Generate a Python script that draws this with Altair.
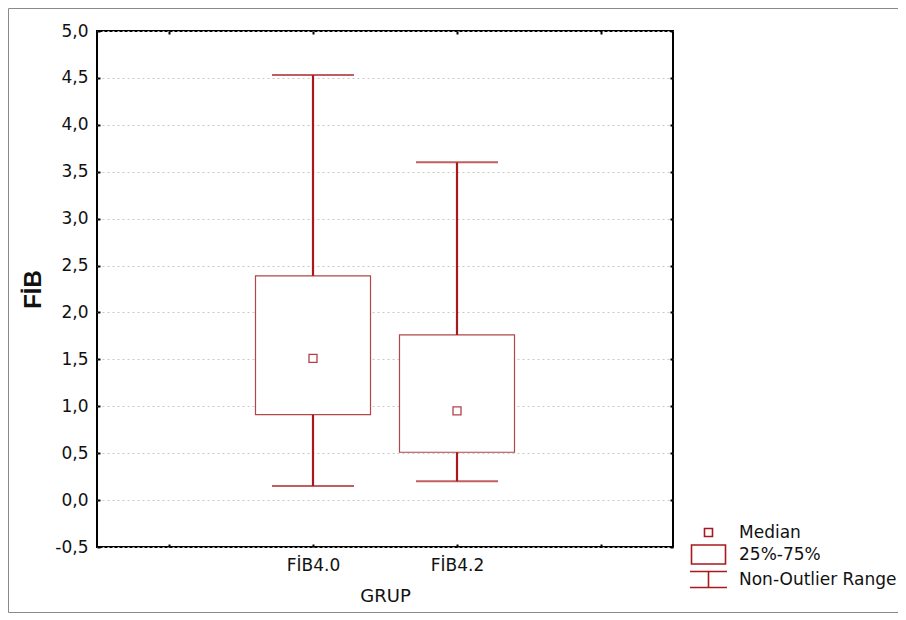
import altair as alt
import pandas as pd

# ---- data ----
groups = ["FİB4.0", "FİB4.2"]
whisker_low = [0.15, 0.20]
q1 = [0.91, 0.51]
median = [1.51, 0.95]
q3 = [2.39, 1.76]
whisker_high = [4.53, 3.60]

x_domain = [" ", "FİB4.0", "FİB4.2", "  "]
y_ticks = [-0.5, 0.0, 0.5, 1.0, 1.5, 2.0, 2.5, 3.0, 3.5, 4.0, 4.5, 5.0]
legend_items = ["Median", "25%-75%", "Non-Outlier Range"]
legend_paths = [
    "M-0.8,-0.8H0.8V0.8H-0.8Z",
    "M-3.4,-1.9H3.4V1.9H-3.4Z",
    "M-3.7,-1.6H3.7M0,-1.6V1.6M-3.7,1.6H3.7",
]

df = pd.DataFrame({"grp": groups, "lo": whisker_low, "q1": q1, "med": median,
                   "q3": q3, "hi": whisker_high})
legend_df = pd.DataFrame({"item": legend_items})

FONT = "DejaVu Sans"
WHISK = "#a8191e"
BOX = "#b0474a"
MED = "#b3404a"

xscale = alt.Scale(type="point", domain=x_domain, padding=0.5)
yscale = alt.Scale(domain=[-0.5, 5.0], nice=False, zero=False)

label_expr = "replace(replace(format(datum.value, '.1f'), '.', ','), '\u2212', '-')"

x_axis = alt.Axis(orient="bottom", title="GRUP", labelAngle=0, tickSize=3, offset=-3,
                  domain=False, tickColor="black", tickWidth=2, labelPadding=10,
                  titlePadding=14, grid=False, labelFontSize=17, titleFontSize=18,
                  titleFontWeight="normal")
y_axis = alt.Axis(orient="left", title="FİB", values=y_ticks, labelExpr=label_expr,
                  tickSize=3, offset=-3, domain=False, tickColor="black", tickWidth=2,
                  labelPadding=9, grid=True, gridDash=[2, 3], gridColor="#c8c8c8",
                  gridWidth=1, labelFontSize=17, titleFontSize=24, titleFontWeight="bold",
                  titleFont="Liberation Sans", titleX=-67, titleY=258, titleAngle=270,
                  titleAlign="center", titleBaseline="middle")

x_top = alt.Axis(orient="top", labels=False, title=None, tickSize=3, offset=-3,
                 domain=False, tickColor="black", tickWidth=2, grid=False)
y_right = alt.Axis(orient="right", labels=False, title=None, values=y_ticks, tickSize=3,
                   offset=-3, domain=False, tickColor="black", tickWidth=2, grid=False)

base = alt.Chart(df)

frame = alt.Chart(alt.Data(values=[{"f": 1}])).mark_rect(
    fill="transparent", stroke="#8a8a8a", strokeWidth=1
).encode(x=alt.value(-88.5), x2=alt.value(900), y=alt.value(-22.5), y2=alt.value(581.5))

bars = base.mark_bar(fill="white", stroke=BOX, strokeWidth=1.2, size=115).encode(
    x=alt.X("grp:N", scale=xscale, axis=x_axis),
    y=alt.Y("q1:Q", scale=yscale, axis=y_axis),
    y2="q3:Q",
)
up = base.mark_rule(color=WHISK, strokeWidth=2.2).encode(
    x=alt.X("grp:N", scale=xscale, axis=None),
    y=alt.Y("q3:Q", scale=yscale, axis=None), y2="hi:Q")
down = base.mark_rule(color=WHISK, strokeWidth=2.2).encode(
    x=alt.X("grp:N", scale=xscale, axis=None),
    y=alt.Y("lo:Q", scale=yscale, axis=None), y2="q1:Q")
cap_hi = base.mark_tick(color=WHISK, thickness=2, size=82).encode(
    x=alt.X("grp:N", scale=xscale, axis=None),
    y=alt.Y("hi:Q", scale=yscale, axis=None))
cap_lo = base.mark_tick(color=WHISK, thickness=2, size=82).encode(
    x=alt.X("grp:N", scale=xscale, axis=None),
    y=alt.Y("lo:Q", scale=yscale, axis=None))
med = base.mark_point(shape="square", filled=False, size=64, color=MED,
                      strokeWidth=1.3, opacity=1).encode(
    x=alt.X("grp:N", scale=xscale, axis=None),
    y=alt.Y("med:Q", scale=yscale, axis=None))
axes2 = base.mark_point(opacity=0).encode(
    x=alt.X("grp:N", scale=xscale, axis=x_top),
    y=alt.Y("med:Q", scale=yscale, axis=y_right))
legend = alt.Chart(legend_df).mark_point(opacity=0).encode(
    shape=alt.Shape("item:N",
                    scale=alt.Scale(domain=legend_items, range=legend_paths),
                    legend=alt.Legend(orient="none", legendX=603, legendY=493, title=None,
                                      symbolSize=100, symbolStrokeColor=WHISK,
                                      symbolFillColor="transparent", symbolStrokeWidth=1.6,
                                      symbolOpacity=1, labelFont=FONT, labelFontSize=17,
                                      labelColor="#111", labelOffset=22, rowPadding=0,
                                      padding=0)))

chart = alt.layer(frame, bars, up, down, cap_hi, cap_lo, med, axes2, legend).resolve_axis(
    x="independent", y="independent"
).properties(
    width=576, height=516,
    padding={"left": 89, "top": 23, "right": 225, "bottom": 66},
    autosize=alt.AutoSizeParams(type="none"),
    background="white",
).configure_view(stroke="black", strokeWidth=2).configure_axis(
    labelFont=FONT, titleFont=FONT, labelColor="#111", titleColor="#111"
)

chart.save("out.html", embed_options={"renderer": "svg", "actions": False})
